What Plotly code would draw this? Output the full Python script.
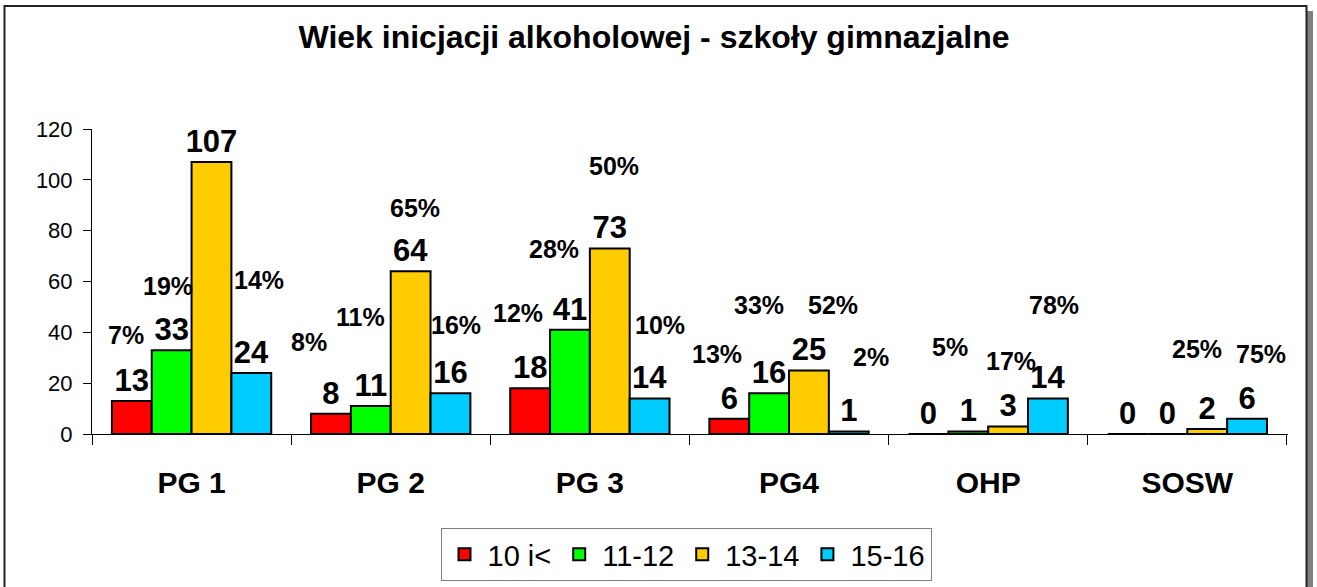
import plotly.graph_objects as go

# ---- data ----
categories = ["PG 1", "PG 2", "PG 3", "PG4", "OHP", "SOSW"]
series_names = ["10 i<", "11-12", "13-14", "15-16"]
vals_10 = [13, 8, 18, 6, 0, 0]
vals_11_12 = [33, 11, 41, 16, 1, 0]
vals_13_14 = [107, 64, 73, 25, 3, 2]
vals_15_16 = [24, 16, 14, 1, 14, 6]

# percentage labels as printed in the chart
pct_labels = ["7%", "19%", "60%", "14%",
              "8%", "11%", "65%", "16%",
              "12%", "28%", "50%", "10%",
              "13%", "33%", "52%", "2%",
              "5%", "17%", "78%",
              "25%", "75%"]
# where each percentage label sits (category index, axis value)
pct_pos_x = [-0.33, -0.12, 0.14, 0.34,
             0.59, 0.85, 1.12, 1.33,
             1.64, 1.82, 2.12, 2.35,
             2.64, 2.85, 3.22, 3.41,
             3.81, 4.115, 4.33,
             5.05, 5.37]
pct_pos_y = [38.9, 58.1, 134.8, 60.7,
             36.2, 46.0, 89.0, 42.9,
             47.6, 72.9, 105.3, 42.7,
             31.6, 50.9, 50.9, 30.4,
             34.2, 28.8, 50.9,
             33.4, 31.6]

colors = ["#FF0000", "#00FF00", "#FFCC00", "#00CCFF"]
all_series = [vals_10, vals_11_12, vals_13_14, vals_15_16]

FONT = "Liberation Sans, Arial, sans-serif"
W, H = 1317, 587
ML, MR, MT, MB = 92, 29, 129, 153
PW, PH = W - ML - MR, H - MT - MB


def px_x(p):
    return (p - ML) / PW


def px_y(p):
    return (H - MB - p) / PH


fig = go.Figure()
for name, vals, col in zip(series_names, all_series, colors):
    fig.add_trace(go.Bar(
        x=categories, y=vals, name=name,
        marker=dict(color=col, line=dict(color="black", width=2)),
        text=[str(v) for v in vals], textposition="outside",
        textfont=dict(family=FONT, size=31, color="black", weight="bold"),
        constraintext="none", cliponaxis=False,
    ))

annotations = []
for lab, ax, ay in zip(pct_labels, pct_pos_x, pct_pos_y):
    annotations.append(dict(
        x=ax, y=ay, xref="x", yref="y", text="<b>%s</b>" % lab,
        showarrow=False, xanchor="center", yanchor="middle",
        font=dict(family=FONT, size=25, color="black")))

shapes = [
    # shadow
    dict(type="rect", xref="paper", yref="paper",
         x0=px_x(1307), x1=px_x(1313), y0=px_y(600), y1=px_y(11),
         fillcolor="#808080", line=dict(width=0), layer="below"),
    # frame
    dict(type="rect", xref="paper", yref="paper",
         x0=px_x(4.5), x1=px_x(1306.5), y0=px_y(600), y1=px_y(6),
         line=dict(color="#222222", width=2), fillcolor="rgba(0,0,0,0)",
         layer="below"),
]

fig.update_layout(
    width=W, height=H,
    margin=dict(l=ML, r=MR, t=MT, b=MB, pad=0, autoexpand=False),
    paper_bgcolor="white", plot_bgcolor="white",
    font=dict(family=FONT, color="black"),
    title=dict(text="<b>Wiek inicjacji alkoholowej - szkoły gimnazjalne</b>",
               font=dict(family=FONT, size=32, color="black"),
               x=654 / W, xref="container", xanchor="center",
               y=1 - 37 / H, yref="container", yanchor="middle"),
    barmode="group", bargap=0.2, bargroupgap=0,
    showlegend=True,
    legend=dict(orientation="h", x=px_x(686), xanchor="center",
                y=px_y(528), yanchor="top",
                font=dict(family=FONT, size=29, color="black"),
                bordercolor="#808080", borderwidth=1, bgcolor="white",
                traceorder="normal", itemwidth=36),
    xaxis=dict(type="category", showline=True, linecolor="black", linewidth=1,
               ticks="outside", tickson="boundaries", ticklen=10,
               tickcolor="black", showgrid=False, automargin=False,
               tickfont=dict(family=FONT, size=30, color="black", weight="bold"),
               ticklabelstandoff=22),
    yaxis=dict(range=[0, 120], dtick=20, showline=True, linecolor="black",
               linewidth=1, ticks="outside", ticklen=8, tickcolor="black",
               showgrid=False, zeroline=False, automargin=False,
               tickfont=dict(family=FONT, size=22, color="black"),
               ticklabelstandoff=6),
    annotations=annotations, shapes=shapes,
)

fig.write_html("out.html", config={"displayModeBar": False},
               post_script="document.body.style.margin='0px';")
